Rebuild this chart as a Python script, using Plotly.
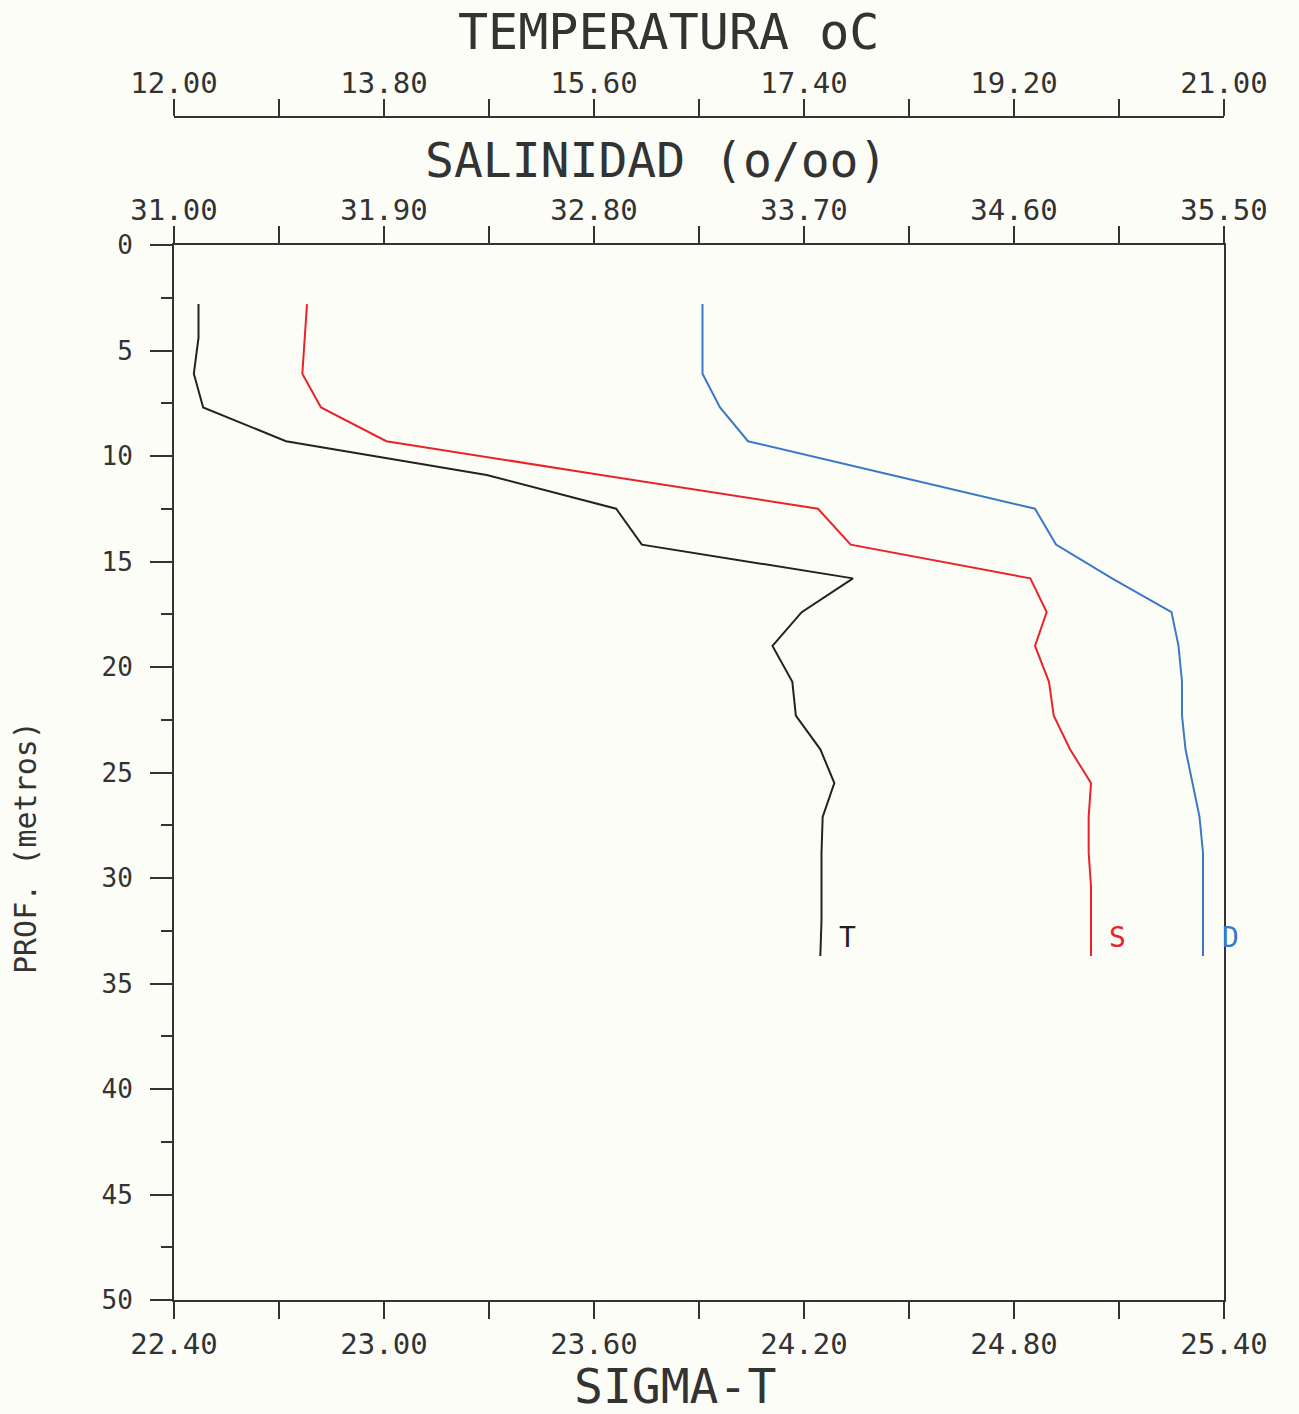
import plotly.graph_objects as go

# Depth (m)
depth = [2.8, 4.4, 6.1, 7.7, 9.3, 10.9, 12.5, 14.2, 15.8, 17.4,
         19.0, 20.7, 22.3, 23.9, 25.5, 27.1, 28.8, 30.4, 32.0, 33.7]
# Temperature (oC)
temperatura = [12.21, 12.21, 12.17, 12.25, 12.96, 14.68, 15.79, 16.01, 17.82, 17.38,
               17.13, 17.30, 17.33, 17.54, 17.66, 17.56, 17.55, 17.55, 17.55, 17.54]
# Salinity (o/oo)
salinidad = [31.57, 31.56, 31.55, 31.63, 31.91, 32.83, 33.76, 33.90, 34.67, 34.74,
             34.69, 34.75, 34.77, 34.84, 34.93, 34.92, 34.92, 34.93, 34.93, 34.93]
# Sigma-t
sigma_t = [23.91, 23.91, 23.91, 23.96, 24.04, 24.45, 24.86, 24.92, 25.08, 25.25,
           25.27, 25.28, 25.28, 25.29, 25.31, 25.33, 25.34, 25.34, 25.34, 25.34]

temp_ticks = [12.0, 13.8, 15.6, 17.4, 19.2, 21.0]
temp_minor = [12.9, 14.7, 16.5, 18.3, 20.1]
sal_ticks = [31.0, 31.9, 32.8, 33.7, 34.6, 35.5]
sal_minor = [31.45, 32.35, 33.25, 34.15, 35.05]
sig_ticks = [22.4, 23.0, 23.6, 24.2, 24.8, 25.4]
sig_minor = [22.7, 23.3, 23.9, 24.5, 25.1]
depth_ticks = [0, 5, 10, 15, 20, 25, 30, 35, 40, 45, 50]
depth_minor = [2.5, 7.5, 12.5, 17.5, 22.5, 27.5, 32.5, 37.5, 42.5, 47.5]

FONT = "DejaVu Sans Mono"
AX = "#333333"
BLACK = "#222222"
RED = "#e8232b"
BLUE = "#3a78c8"
BG = "#fdfdf7"

fig = go.Figure()
fig.add_trace(go.Scatter(x=temperatura, y=depth, mode="lines", xaxis="x3", yaxis="y",
                         line=dict(color=BLACK, width=2), showlegend=False))
fig.add_trace(go.Scatter(x=salinidad, y=depth, mode="lines", xaxis="x2", yaxis="y",
                         line=dict(color=RED, width=2), showlegend=False))
fig.add_trace(go.Scatter(x=sigma_t, y=depth, mode="lines", xaxis="x", yaxis="y",
                         line=dict(color=BLUE, width=2), showlegend=False))

def xax(rng, ticks, minor, standoff=0, **kw):
    d = dict(range=rng, tickmode="array", tickvals=ticks,
             ticktext=[f"{v:.2f}" for v in ticks],
             ticks="outside", ticklen=17, tickwidth=2, tickcolor=AX,
             showline=True, linewidth=2, linecolor=AX, showgrid=False, zeroline=False,
             ticklabelstandoff=standoff,
             tickfont=dict(family=FONT, size=29, color=AX),
             minor=dict(tickmode="array", tickvals=minor, ticks="outside", ticklen=17,
                        tickwidth=2, tickcolor=AX, showgrid=False))
    d.update(kw)
    return d

Y_TOP = (1300 - 245) / 1183

fig.update_layout(
    width=1299, height=1414,
    margin=dict(l=174, r=75, t=117, b=114),
    paper_bgcolor=BG, plot_bgcolor=BG,
    xaxis=xax([22.4, 25.4], sig_ticks, sig_minor, side="bottom", anchor="y"),
    xaxis2=xax([31.0, 35.5], sal_ticks, sal_minor, standoff=-6, side="top", anchor="y",
               overlaying="x"),
    xaxis3=xax([12.0, 21.0], temp_ticks, temp_minor, standoff=-6, side="top", anchor="free",
               position=1.0, overlaying="x"),
    yaxis=dict(domain=[0, Y_TOP], range=[50, 0], tickmode="array", tickvals=depth_ticks,
               ticktext=[str(v) for v in depth_ticks],
               ticks="outside", ticklen=22, tickwidth=2, tickcolor=AX,
               showline=True, linewidth=2, linecolor=AX, mirror=True,
               showgrid=False, zeroline=False, ticklabelstandoff=12,
               tickfont=dict(family=FONT, size=26, color=AX),
               minor=dict(tickmode="array", tickvals=depth_minor, ticks="outside",
                          ticklen=11, tickwidth=2, tickcolor=AX, showgrid=False)),
)

def title(text, x, y, size, angle=0):
    fig.add_annotation(text=text, xref="paper", yref="paper", x=x, y=y,
                       xanchor="center", yanchor="middle", showarrow=False,
                       textangle=angle, font=dict(family=FONT, size=size, color=AX))

title("TEMPERATURA oC", (668 - 174) / 1050, (1300 - 32) / 1183, 50)
title("SALINIDAD (o/oo)", (656 - 174) / 1050, (1300 - 160) / 1183, 48)
title("SIGMA-T", (675 - 174) / 1050, (1300 - 1386) / 1183, 48)
title("PROF. (metros)", (25 - 174) / 1050, (1300 - 848) / 1183, 30, -90)

# end labels
lab_depth = 32.8
fig.add_annotation(text="T", x=temperatura[-1], y=lab_depth, xref="x3", yref="y",
                   xshift=27, showarrow=False, font=dict(family=FONT, size=28, color=BLACK))
fig.add_annotation(text="S", x=salinidad[-1], y=lab_depth, xref="x2", yref="y",
                   xshift=26, showarrow=False, font=dict(family=FONT, size=28, color=RED))
fig.add_annotation(text="D", x=sigma_t[-1], y=lab_depth, xref="x", yref="y",
                   xshift=27, showarrow=False, font=dict(family=FONT, size=28, color=BLUE))

fig.write_html("out.html")
